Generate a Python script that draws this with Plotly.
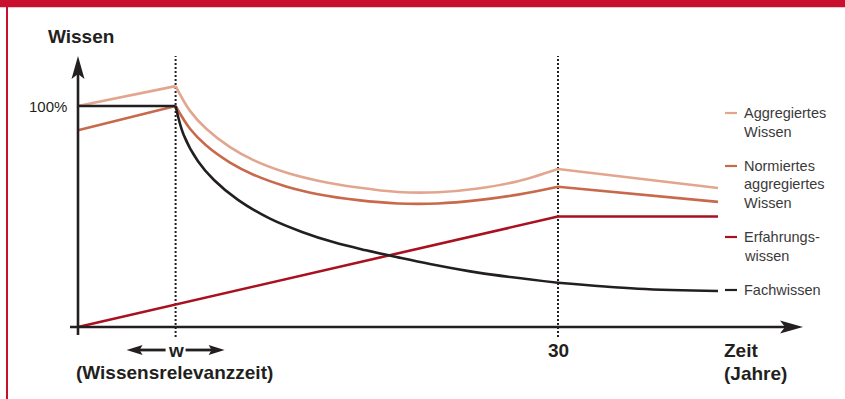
import plotly.graph_objects as go

# ---------------------------------------------------------------- data
W = 6.1  # Wissensrelevanzzeit (Jahre)

YEARS_CURVED = [0, W, 7.0, 8.0, 9.5, 11.0, 13.0, 15.0, 17.5, 20.0, 22.5, 25.0, 27.5, 30.0, 40.0]
AGGREGIERT = [100, 109, 97.8, 89.8, 81.4, 75.4, 69.9, 66.2, 63.1, 61.1, 61.0, 62.7, 66.0, 71.5, 62.9]
NORMIERT = [89, 100, 89.7, 82.2, 74.4, 68.8, 63.6, 60.1, 57.4, 55.9, 55.9, 57.4, 59.9, 63.5, 56.6]

YEARS_FACH = [0, W, 6.6, 7.5, 8.5, 10.0, 12.0, 14.0, 16.0, 18.0, 20.0, 22.0, 25.0, 30.0, 35.0, 40.0]
FACHWISSEN = [100, 100, 87, 75, 66.5, 57.5, 49, 43, 38.3, 34.7, 31.5, 28.5, 24.6, 20, 17.3, 16.3]

YEARS_ERF = [0, 30, 40]
ERFAHRUNG = [0, 50, 50]

KINKS = [W, 30]                 # points where a curve changes its regime
X_TICKS = [W, 30]
X_TICK_TEXT = ["w", "30"]
Y_TICK = 100
Y_TICK_TEXT = "100%"

LEGEND_LABELS = [
    ["Aggregiertes", "Wissen"],
    ["Normiertes", "aggregiertes", "Wissen"],
    ["Erfahrungs-", "wissen"],
    ["Fachwissen"],
]

# ---------------------------------------------------------------- style
C_AGG = "#e2a68f"
C_NORM = "#c9694c"
C_ERF = "#a8111f"
C_FACH = "#231f20"
C_TEXT = "#231f20"
C_LEGEND_TEXT = "#3b3a3a"
C_FRAME = "#c8102e"
FONT = "Liberation Sans, Arial, sans-serif"

FIG_W, FIG_H = 845, 399
ORIGIN = (78, 327)        # pixel position of (0 Jahre, 0 %)
PX_YEAR = 16.0
PX_PCT = 2.21
LINE_W = 2.6

X_RANGE = [-ORIGIN[0] / PX_YEAR, (FIG_W - ORIGIN[0]) / PX_YEAR]
Y_RANGE = [(ORIGIN[1] - FIG_H) / PX_PCT, ORIGIN[1] / PX_PCT]


def data_y(py):
    return (ORIGIN[1] - py) / PX_PCT


def data_x(px):
    return (px - ORIGIN[0]) / PX_YEAR


def paper_x(px):
    return px / FIG_W


def paper_y(py):
    return 1 - py / FIG_H


fig = go.Figure()


def add_series(xs, ys, color):
    """Straight segments stay straight, segments with inner points are smoothed."""
    cuts = [xs[0]] + [k for k in KINKS if k in xs[1:-1]] + [xs[-1]]
    for a, b in zip(cuts[:-1], cuts[1:]):
        seg = [(x, y) for x, y in zip(xs, ys) if a <= x <= b]
        sx = [p[0] for p in seg]
        sy = [p[1] for p in seg]
        fig.add_trace(go.Scatter(
            x=sx, y=sy, mode="lines", hoverinfo="skip", showlegend=False,
            line=dict(color=color, width=LINE_W,
                      shape="spline" if len(seg) > 2 else "linear",
                      smoothing=1.0),
        ))


# dotted guide lines at w and 30
for xv in X_TICKS:
    fig.add_shape(type="line", xref="x", yref="y", x0=xv, x1=xv,
                  y0=data_y(337), y1=data_y(56),
                  line=dict(color=C_FACH, width=2, dash="2px,2px"), layer="below")

add_series(YEARS_CURVED, AGGREGIERT, C_AGG)
add_series(YEARS_CURVED, NORMIERT, C_NORM)
add_series(YEARS_ERF, ERFAHRUNG, C_ERF)
add_series(YEARS_FACH, FACHWISSEN, C_FACH)

# axes with arrow heads
fig.add_shape(type="line", xref="x", yref="y", x0=0, x1=0,
              y0=data_y(335), y1=data_y(70), line=dict(color=C_TEXT, width=2.6))
fig.add_shape(type="line", xref="x", yref="y", x0=data_x(70), x1=data_x(790),
              y0=0, y1=0, line=dict(color=C_TEXT, width=2.6))
fig.add_shape(type="path", xref="x", yref="y", xsizemode="pixel", ysizemode="pixel",
              xanchor=0, yanchor=data_y(56),
              path="M0,0 L-6.5,-23 L0,-18 L6.5,-23 Z",
              fillcolor=C_TEXT, line=dict(width=0))
fig.add_shape(type="path", xref="x", yref="y", xsizemode="pixel", ysizemode="pixel",
              xanchor=data_x(803), yanchor=0,
              path="M0,0 L-23,6.5 L-18,0 L-23,-6.5 Z",
              fillcolor=C_TEXT, line=dict(width=0))

# arrows around the w label
w_level = data_y(350)
for sign in (-1, 1):
    fig.add_shape(type="line", xref="x", yref="y", xsizemode="pixel", ysizemode="pixel",
                  xanchor=W, yanchor=w_level, x0=sign * 10, x1=sign * 40, y0=0, y1=0,
                  line=dict(color=C_TEXT, width=2.8))
    fig.add_shape(type="path", xref="x", yref="y", xsizemode="pixel", ysizemode="pixel",
                  xanchor=W, yanchor=w_level,
                  path=f"M{sign*49},0 L{sign*33},5 L{sign*36},0 L{sign*33},-5 Z",
                  fillcolor=C_TEXT, line=dict(width=0))

# frame: red band on top and thin red rule on the left
fig.add_shape(type="rect", xref="paper", yref="paper", x0=0, x1=1,
              y0=paper_y(7.3), y1=1, fillcolor=C_FRAME, line=dict(width=0))
fig.add_shape(type="rect", xref="paper", yref="paper", x0=paper_x(6), x1=paper_x(8),
              y0=0, y1=1, fillcolor=C_FRAME, line=dict(width=0))

bold = dict(family=FONT, size=19, color=C_TEXT)
ann = []
ann.append(dict(text="<b>Wissen</b>", xref="paper", yref="paper",
                x=paper_x(81), y=paper_y(36), xanchor="center", yanchor="middle",
                showarrow=False, font=bold))
ann.append(dict(text=Y_TICK_TEXT, xref="x", yref="y", x=0, y=Y_TICK, xshift=-9,
                xanchor="right", yanchor="middle", showarrow=False,
                font=dict(family=FONT, size=15, color=C_TEXT)))
for xv, lab in zip(X_TICKS, X_TICK_TEXT):
    ann.append(dict(text=f"<b>{lab}</b>", xref="x", yref="y", x=xv, y=0, yshift=-23,
                    xanchor="center", yanchor="middle", showarrow=False, font=bold))
ann.append(dict(text="<b>(Wissensrelevanzzeit)</b>", xref="paper", yref="paper",
                x=paper_x(74), y=paper_y(372), xanchor="left", yanchor="middle",
                showarrow=False, font=bold))
ann.append(dict(text="<b>Zeit</b>", xref="paper", yref="paper",
                x=paper_x(722), y=paper_y(350), xanchor="left", yanchor="middle",
                showarrow=False, font=bold))
ann.append(dict(text="<b>(Jahre)</b>", xref="paper", yref="paper",
                x=paper_x(722), y=paper_y(373), xanchor="left", yanchor="middle",
                showarrow=False, font=bold))

# legend: short colour rule plus stacked label lines
legend_rows = [113, 166, 237, 290]
line_gap = 18.5
for lines, color, row in zip(LEGEND_LABELS, [C_AGG, C_NORM, C_ERF, C_FACH], legend_rows):
    fig.add_shape(type="line", xref="paper", yref="paper",
                  x0=paper_x(725), x1=paper_x(737), y0=paper_y(row), y1=paper_y(row),
                  line=dict(color=color, width=2.2))
    for i, txt in enumerate(lines):
        ann.append(dict(text=txt, xref="paper", yref="paper",
                        x=paper_x(742), y=paper_y(row + i * line_gap),
                        xanchor="left", yanchor="middle", showarrow=False,
                        font=dict(family=FONT, size=14.5, color=C_LEGEND_TEXT)))

fig.update_layout(
    width=FIG_W, height=FIG_H,
    margin=dict(l=0, r=0, t=0, b=0),
    paper_bgcolor="white", plot_bgcolor="white",
    xaxis=dict(range=X_RANGE, visible=False, fixedrange=True),
    yaxis=dict(range=Y_RANGE, visible=False, fixedrange=True),
    annotations=ann,
    showlegend=False,
)

fig.write_html("out.html")
